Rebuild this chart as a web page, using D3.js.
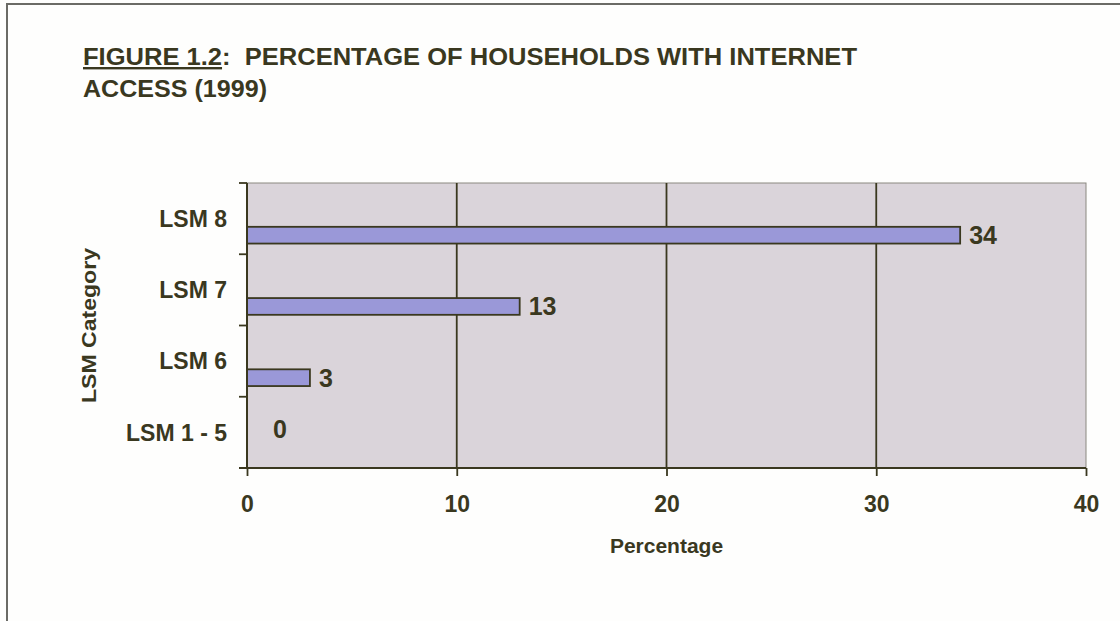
<!DOCTYPE html>
<html><head><meta charset="utf-8">
<script src="https://cdn.jsdelivr.net/npm/d3@7"></script>
<style>body{margin:0;background:#fefefd;}svg{display:block;font-family:"Liberation Sans",Arial,sans-serif;font-weight:bold;}</style>
</head><body><svg id="c" width="1120" height="621"></svg>
<script>
const categories = ["LSM 8", "LSM 7", "LSM 6", "LSM 1 - 5"];
const values = [34, 13, 3, 0];
const xTicks = [0, 10, 20, 30, 40];
const titleLines = ["FIGURE 1.2:  PERCENTAGE OF HOUSEHOLDS WITH INTERNET", "ACCESS (1999)"];
const xTitle = "Percentage";
const yTitle = "LSM Category";

const svg = d3.select("#c");
const ink = "#3a381f";
const pL = 247, pR = 1086, pT = 183, pB = 468;

// outer frame
svg.append("rect").attr("x", 7).attr("y", 4).attr("width", 1130).attr("height", 640)
  .attr("fill", "#fefefd").attr("stroke", "#6b6b66").attr("stroke-width", 2);

// title
const t = svg.append("text").attr("x", 83).attr("y", 65).attr("fill", ink).attr("font-size", 24)
  .attr("xml:space", "preserve").attr("textLength", 774).attr("lengthAdjust", "spacingAndGlyphs");
t.append("tspan").attr("text-decoration", "underline").text("FIGURE 1.2");
t.append("tspan").text(titleLines[0].slice(10));
svg.append("text").attr("x", 83).attr("y", 97).attr("fill", ink).attr("font-size", 24)
  .attr("textLength", 184).attr("lengthAdjust", "spacingAndGlyphs").text(titleLines[1]);

const x = d3.scaleLinear().domain([0, 40]).range([pL, pR]);
const y = d3.scaleBand().domain(categories).range([pT, pB]);

// plot background
svg.append("rect").attr("x", pL).attr("y", pT).attr("width", pR - pL).attr("height", pB - pT)
  .attr("fill", "#dad4da").attr("stroke", "#8a8880").attr("stroke-width", 1);

// gridlines
svg.append("g").selectAll("line").data(xTicks.filter(d => d > 0 && d < 40)).join("line")
  .attr("x1", d => x(d)).attr("x2", d => x(d)).attr("y1", pT).attr("y2", pB)
  .attr("stroke", ink).attr("stroke-width", 1.8);

// bars
const bw = y.bandwidth();
const barY = d => y(d) + bw * 0.615;
const barH = bw * 0.235;
const rows = categories.map((c, i) => ({c, v: values[i]}));
svg.append("g").selectAll("rect").data(rows).join("rect")
  .attr("x", x(0)).attr("y", d => barY(d.c)).attr("width", d => x(d.v) - x(0)).attr("height", barH)
  .attr("fill", "#9a98d8").attr("stroke", ink).attr("stroke-width", 1.8)
  .attr("display", d => d.v > 0 ? null : "none");

// value labels
svg.append("g").selectAll("text").data(rows).join("text")
  .attr("x", d => d.v > 0 ? x(d.v) + 9 : x(d.v) + 26)
  .attr("y", d => d.v > 0 ? barY(d.c) + barH / 2 : y(d.c) + bw * 0.45)
  .attr("dy", "0.36em").attr("font-size", 25).attr("fill", ink).text(d => d.v);

// x axis
const xa = svg.append("g").attr("transform", `translate(0,${pB})`)
  .call(d3.axisBottom(x).tickValues(xTicks).tickSize(8).tickPadding(20));
xa.select(".domain").attr("stroke", ink).attr("stroke-width", 2).attr("d", `M${pL - 8},0H${pR}`);
xa.selectAll(".tick line").attr("stroke", ink).attr("stroke-width", 1.8);
xa.selectAll(".tick text").attr("fill", ink).attr("font-size", 23).attr("font-family", "Liberation Sans, Arial").attr("font-weight", "bold");

// y axis
const ya = svg.append("g").attr("transform", `translate(${pL},0)`)
  .call(d3.axisLeft(y).tickSize(0).tickPadding(20));
ya.select(".domain").attr("stroke", ink).attr("stroke-width", 2).attr("d", `M0,${pT}V${pB}`);
ya.selectAll(".tick text").attr("fill", ink).attr("font-size", 23).attr("font-family", "Liberation Sans, Arial").attr("font-weight", "bold")
  .attr("dy", "0.36em");
// category boundary ticks
svg.append("g").selectAll("line").data(categories.concat(["__end"])).join("line")
  .attr("x1", pL - 8).attr("x2", pL)
  .attr("y1", (d, i) => i < categories.length ? y(d) : pB)
  .attr("y2", (d, i) => i < categories.length ? y(d) : pB)
  .attr("stroke", ink).attr("stroke-width", 1.8);

// axis titles
svg.append("text").attr("x", (pL + pR) / 2).attr("y", 553).attr("text-anchor", "middle")
  .attr("font-size", 21).attr("fill", ink).text(xTitle);
svg.append("text").attr("transform", `translate(96,${(pT + pB) / 2}) rotate(-90)`).attr("text-anchor", "middle")
  .attr("font-size", 21).attr("fill", ink).attr("textLength", 155).attr("lengthAdjust", "spacingAndGlyphs").text(yTitle);
</script></body></html>
